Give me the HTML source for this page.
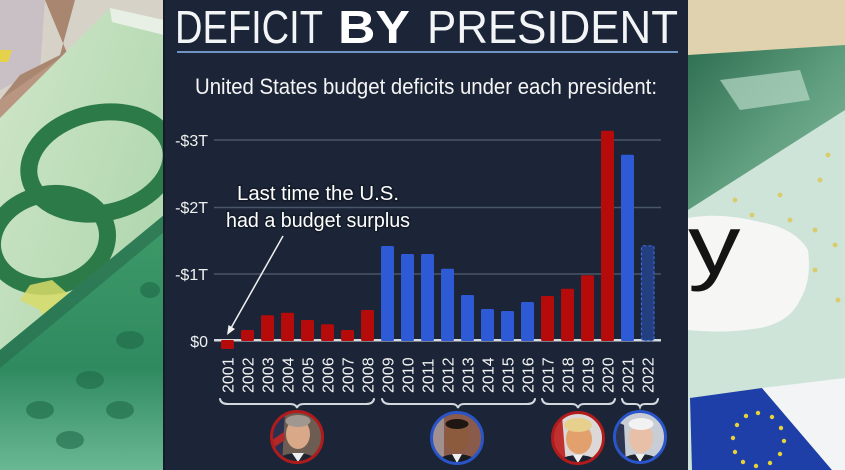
<!DOCTYPE html>
<html><head><meta charset="utf-8"><style>
html,body{margin:0;padding:0;width:845px;height:470px;overflow:hidden;background:#1b2537;}
svg{display:block;}
text{font-family:"Liberation Sans",sans-serif;}
</style></head><body>
<svg width="845" height="470" viewBox="0 0 845 470" xmlns="http://www.w3.org/2000/svg">
<defs>
<clipPath id="cl"><rect x="0" y="0" width="164" height="470"/></clipPath>
<clipPath id="cr"><rect x="688" y="0" width="157" height="470"/></clipPath>
<clipPath id="p1"><circle cx="297" cy="437" r="25"/></clipPath>
<clipPath id="p2"><circle cx="457" cy="438" r="25"/></clipPath>
<clipPath id="p3"><circle cx="578" cy="438" r="25"/></clipPath>
<clipPath id="p4"><circle cx="640" cy="437" r="25"/></clipPath>
<linearGradient id="lg1" x1="0" y1="0" x2="1" y2="1">
<stop offset="0" stop-color="#cfe6c8"/><stop offset="1" stop-color="#a6d2a6"/></linearGradient>
<linearGradient id="lg2" x1="0" y1="0" x2="0" y2="1">
<stop offset="0" stop-color="#3f9a68"/><stop offset="0.6" stop-color="#2f8a60"/><stop offset="1" stop-color="#6ab894"/></linearGradient>
<linearGradient id="rg1" x1="0" y1="0" x2="1" y2="1">
<stop offset="0" stop-color="#2e6e50"/><stop offset="0.5" stop-color="#5c9c7c"/><stop offset="1" stop-color="#88bca0"/></linearGradient>
</defs>

<!-- LEFT BACKGROUND -->
<g clip-path="url(#cl)">
<rect x="0" y="0" width="164" height="470" fill="#a8d2a6"/>
<rect x="0" y="0" width="164" height="130" fill="#d6d2c8"/>
<path d="M0 0 L45 0 L40 70 L0 90 Z" fill="#c9c0c6"/>
<path d="M0 50 L12 50 L8 62 L0 62 Z" fill="#e6d24a"/>
<path d="M45 0 L75 0 L60 55 L20 75 L0 100 L0 120 L30 95 L70 60 Z" fill="#a88670"/>
<path d="M0 100 L40 72 L60 58 L25 95 L0 118 Z" fill="#b89682"/>
<path d="M0 118 L110 8 L164 20 L164 470 L0 470 Z" fill="url(#lg1)"/>
<path d="M110 8 L164 20 L164 35 L112 22 Z" fill="#e8f0e6"/>
<ellipse cx="100" cy="163" rx="72" ry="50" transform="rotate(-12 100 163)" fill="none" stroke="#2c7a48" stroke-width="17"/>
<ellipse cx="50" cy="240" rx="58" ry="46" transform="rotate(-12 50 240)" fill="none" stroke="#2c7a48" stroke-width="17"/>
<path d="M30 285 L52 280 L75 300 L60 318 L50 335 L40 310 L20 300 Z" fill="#d8dc68" opacity="0.85"/>
<path d="M125 320 L164 305 L164 355 L140 350 Z" fill="#d6d458" opacity="0.85"/>
<path d="M0 350 L164 215 L164 470 L0 470 Z" fill="url(#lg2)"/>
<path d="M0 350 L164 215 L164 232 L0 368 Z" fill="#2a7050" opacity="0.7"/>
<g fill="#1f6a48" opacity="0.6">
<ellipse cx="40" cy="410" rx="14" ry="9"/><ellipse cx="90" cy="380" rx="14" ry="9"/>
<ellipse cx="130" cy="340" rx="14" ry="9"/><ellipse cx="70" cy="440" rx="14" ry="9"/>
<ellipse cx="120" cy="410" rx="14" ry="9"/><ellipse cx="150" cy="290" rx="10" ry="8"/>
</g>
</g>

<!-- RIGHT BACKGROUND -->
<g clip-path="url(#cr)">
<rect x="688" y="0" width="157" height="470" fill="#cfe4d8"/>
<rect x="688" y="0" width="157" height="60" fill="#e0d2ae"/>
<path d="M688 55 L845 45 L845 110 L688 210 Z" fill="url(#rg1)"/>
<path d="M720 80 L800 70 L810 100 L740 110 Z" fill="#b8d8c4" opacity="0.7"/>
<g fill="#d8cc70">
<circle cx="735" cy="200" r="2.5"/><circle cx="752" cy="215" r="2.5"/><circle cx="780" cy="195" r="2.5"/>
<circle cx="790" cy="220" r="2.5"/><circle cx="815" cy="230" r="2.5"/><circle cx="820" cy="180" r="2.5"/>
<circle cx="835" cy="245" r="2.5"/><circle cx="815" cy="270" r="2.5"/><circle cx="838" cy="300" r="2.5"/>
<circle cx="828" cy="155" r="2.5"/>
</g>
<path d="M688 218 Q720 212 760 222 Q795 228 808 250 Q812 280 800 300 Q790 322 760 328 Q725 334 688 330 Z" fill="#f6f6f4"/>
<text transform="translate(688 274) scale(1.25 1)" font-family="Liberation Serif,serif" font-size="84" fill="#141414">y</text>
<path d="M690 398 L762 388 L832 470 L692 470 Z" fill="#1f3fa8"/>
<path d="M762 388 L845 378 L845 470 L832 470 Z" fill="#f2f4f6"/>
<g fill="#e8d23a">
<circle cx="758" cy="413" r="2.2"/><circle cx="772" cy="417" r="2.2"/><circle cx="781" cy="428" r="2.2"/>
<circle cx="784" cy="441" r="2.2"/><circle cx="780" cy="454" r="2.2"/><circle cx="770" cy="463" r="2.2"/>
<circle cx="756" cy="466" r="2.2"/><circle cx="743" cy="462" r="2.2"/><circle cx="735" cy="452" r="2.2"/>
<circle cx="733" cy="438" r="2.2"/><circle cx="737" cy="425" r="2.2"/><circle cx="746" cy="416" r="2.2"/>
</g>
</g>

<!-- PANEL -->
<rect x="163" y="0" width="525" height="470" fill="#1b2537"/>
<rect x="163" y="0" width="2" height="470" fill="#141c2a"/>

<!-- Title -->
<text x="175" y="43" font-size="46" fill="#f2f4f6" textLength="148" lengthAdjust="spacingAndGlyphs">DEFICIT</text>
<text x="338" y="43" font-size="46" font-weight="bold" fill="#ffffff" textLength="72" lengthAdjust="spacingAndGlyphs">BY</text>
<text x="427" y="43" font-size="46" fill="#f2f4f6" textLength="251" lengthAdjust="spacingAndGlyphs">PRESIDENT</text>
<rect x="177" y="51" width="501" height="2" fill="#6f93c4"/>
<text x="195" y="94" font-size="22" fill="#f4f4f4" textLength="462" lengthAdjust="spacingAndGlyphs">United States budget deficits under each president:</text>

<!-- gridlines -->
<g stroke="#4a5669" stroke-width="1.5">
<line x1="214" y1="140" x2="661" y2="140"/>
<line x1="214" y1="207.5" x2="661" y2="207.5"/>
<line x1="214" y1="274" x2="661" y2="274"/>
</g>
<g font-size="16" fill="#f0f0f0" text-anchor="end">
<text x="208" y="146">-$3T</text>
<text x="208" y="213">-$2T</text>
<text x="208" y="280">-$1T</text>
<text x="208" y="347">$0</text>
</g>
<rect x="214" y="339" width="447" height="2.5" fill="#d6dadf"/>

<!-- bars -->
<g fill="#b50b0b">
<rect x="221" y="340" width="13" height="9" rx="1.5"/>
<rect x="241" y="330" width="13" height="11" rx="1.5"/>
<rect x="261" y="315.3" width="13" height="25.7" rx="1.5"/>
<rect x="281" y="312.7" width="13" height="28.3" rx="1.5"/>
<rect x="301" y="320" width="13" height="21" rx="1.5"/>
<rect x="321" y="324.3" width="13" height="16.7" rx="1.5"/>
<rect x="341" y="330" width="13" height="11" rx="1.5"/>
<rect x="361" y="310" width="13" height="31" rx="1.5"/>
<rect x="541" y="296" width="13" height="45" rx="1.5"/>
<rect x="561" y="288.7" width="13" height="52.3" rx="1.5"/>
<rect x="581" y="275.3" width="13" height="65.7" rx="1.5"/>
<rect x="601" y="130.7" width="13" height="210.3" rx="1.5"/>
</g>
<g fill="#2f5ad6">
<rect x="381" y="246" width="13" height="95" rx="1.5"/>
<rect x="401" y="254" width="13" height="87" rx="1.5"/>
<rect x="421" y="254" width="13" height="87" rx="1.5"/>
<rect x="441" y="268.7" width="13" height="72.3" rx="1.5"/>
<rect x="461" y="295" width="13" height="46" rx="1.5"/>
<rect x="481" y="309" width="13" height="32" rx="1.5"/>
<rect x="501" y="311" width="13" height="30" rx="1.5"/>
<rect x="521" y="302" width="13" height="39" rx="1.5"/>
<rect x="621" y="154.7" width="13" height="186.3" rx="1.5"/>
</g>
<rect x="641.5" y="245.8" width="12.5" height="94.7" rx="2" fill="#233f80" stroke="#3c66dc" stroke-width="1.2" stroke-dasharray="3 2"/>

<!-- year labels -->
<g font-size="16" fill="#f4f4f4">
<text transform="translate(233.5 393) rotate(-90)">2001</text>
<text transform="translate(253.5 393) rotate(-90)">2002</text>
<text transform="translate(273.5 393) rotate(-90)">2003</text>
<text transform="translate(293.5 393) rotate(-90)">2004</text>
<text transform="translate(313.5 393) rotate(-90)">2005</text>
<text transform="translate(333.5 393) rotate(-90)">2006</text>
<text transform="translate(353.5 393) rotate(-90)">2007</text>
<text transform="translate(373.5 393) rotate(-90)">2008</text>
<text transform="translate(393.5 393) rotate(-90)">2009</text>
<text transform="translate(413.5 393) rotate(-90)">2010</text>
<text transform="translate(433.5 393) rotate(-90)">2011</text>
<text transform="translate(453.5 393) rotate(-90)">2012</text>
<text transform="translate(473.5 393) rotate(-90)">2013</text>
<text transform="translate(493.5 393) rotate(-90)">2014</text>
<text transform="translate(513.5 393) rotate(-90)">2015</text>
<text transform="translate(533.5 393) rotate(-90)">2016</text>
<text transform="translate(553.5 393) rotate(-90)">2017</text>
<text transform="translate(573.5 393) rotate(-90)">2018</text>
<text transform="translate(593.5 393) rotate(-90)">2019</text>
<text transform="translate(613.5 393) rotate(-90)">2020</text>
<text transform="translate(633.5 393) rotate(-90)">2021</text>
<text transform="translate(653.5 393) rotate(-90)">2022</text>
</g>

<!-- braces -->
<g fill="none" stroke="#d4d8de" stroke-width="2" stroke-linecap="round">
<path d="M220 399 Q221 404 228 404 L290 404 Q296 404 297 408 Q298 404 304 404 L366 404 Q373 404 374 399"/>
<path d="M382 399 Q383 404 390 404 L452 404 Q457 404 458 408 Q459 404 464 404 L527 404 Q534 404 535 399"/>
<path d="M542 399 Q543 404 549 404 L572 404 Q577 404 578 408 Q579 404 584 404 L608 404 Q614 404 615 399"/>
<path d="M622 399 Q623 404 628 404 L635 404 Q639 404 640 407 Q641 404 645 404 L652 404 Q657 404 658 399"/>
</g>

<!-- portraits -->
<g clip-path="url(#p1)">
<rect x="270" y="410" width="55" height="55" fill="#6c5c52"/>
<path d="M270 410 L285 410 L282 465 L270 465 Z" fill="#2a3050"/>
<path d="M272 440 L284 432 L285 440 L273 448 Z" fill="#b02828"/>
<ellipse cx="298" cy="434" rx="12" ry="15" fill="#d8a888"/>
<ellipse cx="298" cy="421" rx="12.5" ry="6" fill="#a09890"/>
<ellipse cx="297" cy="470" rx="26" ry="17" fill="#1e2530"/>
<path d="M292 453 L298 462 L304 453 Z" fill="#eeeeee"/>
</g>
<circle cx="297" cy="437" r="25.5" fill="none" stroke="#b01c1c" stroke-width="3"/>

<g clip-path="url(#p2)">
<rect x="430" y="410" width="55" height="55" fill="#8a5a4a"/>
<rect x="430" y="410" width="14" height="55" fill="#a09090"/>
<ellipse cx="457" cy="437" rx="12" ry="15" fill="#8c5a3c"/>
<ellipse cx="457" cy="424" rx="11.5" ry="5" fill="#1e1612"/>
<ellipse cx="457" cy="471" rx="26" ry="17" fill="#1a1c24"/>
<path d="M452 454 L457 463 L462 454 Z" fill="#eeeeee"/>
</g>
<circle cx="457" cy="438" r="25.5" fill="none" stroke="#2a55c8" stroke-width="3"/>

<g clip-path="url(#p3)">
<rect x="551" y="410" width="55" height="55" fill="#dcd8d8"/>
<path d="M551 420 L562 416 L566 465 L551 465 Z" fill="#c03030"/>
<ellipse cx="579" cy="439" rx="13" ry="15" fill="#e2a06c"/>
<ellipse cx="578" cy="425" rx="14" ry="7" fill="#e6d08c"/>
<ellipse cx="578" cy="472" rx="27" ry="17" fill="#1c2232"/>
<path d="M573 455 L578 463 L583 455 Z" fill="#eeeeee"/>
</g>
<circle cx="578" cy="438" r="25.5" fill="none" stroke="#b01c1c" stroke-width="3"/>

<g clip-path="url(#p4)">
<rect x="613" y="410" width="55" height="55" fill="#c8ccd4"/>
<path d="M613 420 L624 425 L626 465 L613 465 Z" fill="#2c3450"/>
<ellipse cx="641" cy="438" rx="12" ry="15" fill="#e8c0a8"/>
<ellipse cx="641" cy="424" rx="12.5" ry="6" fill="#f2f2f2"/>
<ellipse cx="640" cy="471" rx="26" ry="17" fill="#1c2432"/>
<path d="M635 454 L640 462 L645 454 Z" fill="#eeeeee"/>
</g>
<circle cx="640" cy="437" r="25.5" fill="none" stroke="#2a55c8" stroke-width="3"/>

<!-- annotation -->
<g font-size="20" fill="#ffffff" stroke="#141c2a" stroke-width="3" paint-order="stroke" text-anchor="middle">
<text x="318" y="200" textLength="162" lengthAdjust="spacingAndGlyphs">Last time the U.S.</text>
<text x="318" y="227" textLength="184" lengthAdjust="spacingAndGlyphs">had a budget surplus</text>
</g>
<line x1="283" y1="236" x2="231" y2="328" stroke="#f0f0f0" stroke-width="1.5"/>
<path d="M227 335 L228.5 325 L235 329 Z" fill="#f0f0f0"/>
</svg>
</body></html>
